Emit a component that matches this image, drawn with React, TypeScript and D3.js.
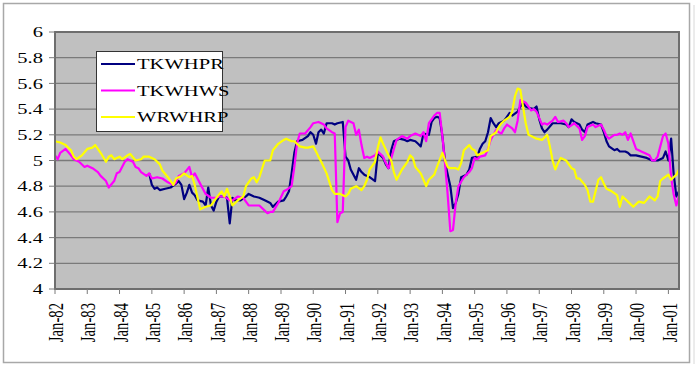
import React from "react";
import * as d3 from "d3";

// month offset from Jan-82, value
const TKWHPR: [number, number][] = [
  [35, 4.9], [36, 4.81], [37, 4.78], [38, 4.79], [39, 4.77], [41, 4.78], [43, 4.79], [45, 4.82], [46, 4.84],
  [47, 4.81], [48, 4.7], [49, 4.75], [50, 4.81], [51, 4.75], [52, 4.73], [53, 4.69], [55, 4.68], [56, 4.65],
  [57, 4.79], [58, 4.65], [59, 4.61], [60, 4.68], [61, 4.72], [63, 4.72], [64, 4.71], [65, 4.51], [66, 4.71],
  [67, 4.69], [69, 4.69], [71, 4.72], [72, 4.74], [74, 4.72], [76, 4.71], [78, 4.69], [80, 4.67], [81, 4.64],
  [83, 4.68], [85, 4.69], [86, 4.72], [87, 4.76], [88, 4.9], [89, 5.06], [90, 5.15], [92, 5.16], [94, 5.19],
  [95, 5.22], [96, 5.2], [97, 5.13], [98, 5.22], [99, 5.24], [100, 5.21], [101, 5.29], [103, 5.29], [104, 5.28],
  [105, 5.29], [107, 5.3], [108, 5.03], [109, 5.0], [110, 4.93], [112, 4.85], [113, 4.94], [114, 4.91],
  [115, 4.89], [117, 4.87], [119, 4.84], [120, 5.06], [121, 5.04], [122, 5.02], [123, 4.97], [124, 4.94],
  [125, 5.08], [126, 5.15], [128, 5.17], [130, 5.16], [131, 5.15], [132, 5.16], [134, 5.15], [135, 5.13],
  [136, 5.11], [137, 5.21], [139, 5.2], [140, 5.3], [141, 5.33], [142, 5.34], [143, 5.33], [144, 5.19],
  [145, 4.98], [147, 4.8], [148, 4.63], [149, 4.67], [150, 4.74], [151, 4.87], [153, 4.89], [154, 4.93],
  [155, 5.02], [157, 5.03], [158, 5.09], [159, 5.13], [160, 5.15], [161, 5.22], [162, 5.33], [163, 5.29],
  [164, 5.26], [165, 5.29], [167, 5.31], [168, 5.34], [169, 5.37], [170, 5.35], [172, 5.38], [173, 5.42],
  [174, 5.45], [175, 5.42], [176, 5.41], [178, 5.4], [179, 5.42], [180, 5.32], [181, 5.25], [182, 5.22],
  [183, 5.24], [185, 5.29], [187, 5.29], [188, 5.29], [190, 5.28], [191, 5.26], [192, 5.32], [193, 5.3],
  [195, 5.28], [196, 5.24], [197, 5.22], [198, 5.28], [200, 5.3], [201, 5.29], [203, 5.28], [204, 5.22],
  [205, 5.15], [206, 5.11], [208, 5.08], [209, 5.09], [210, 5.07], [212, 5.07], [213, 5.06], [214, 5.04],
  [216, 5.04], [218, 5.03], [220, 5.02], [222, 5.0], [224, 5.0], [226, 5.02], [227, 5.07], [228, 5.0],
  [229, 5.17], [230, 4.9], [231, 4.72], [232, 4.76],
];

const TKWHWS: [number, number][] = [
  [0, 5.04], [1, 5.01], [2, 5.06], [4, 5.09], [6, 5.04], [7, 5.01], [9, 4.99], [11, 4.95], [12, 4.96],
  [14, 4.94], [16, 4.91], [17, 4.88], [19, 4.84], [20, 4.79], [22, 4.84], [23, 4.9], [24, 4.91], [26, 4.99],
  [27, 5.01], [29, 4.99], [30, 4.95], [31, 4.94], [32, 4.91], [34, 4.88], [35, 4.9], [36, 4.86], [38, 4.87],
  [40, 4.86], [42, 4.83], [44, 4.81], [45, 4.83], [46, 4.88], [48, 4.9], [50, 4.95], [51, 4.87], [52, 4.9],
  [54, 4.82], [56, 4.74], [58, 4.71], [60, 4.71], [61, 4.72], [63, 4.72], [65, 4.69], [66, 4.69], [68, 4.72],
  [70, 4.71], [72, 4.65], [74, 4.65], [76, 4.65], [78, 4.61], [79, 4.59], [80, 4.6], [81, 4.6], [83, 4.67],
  [85, 4.76], [86, 4.77], [88, 4.8], [89, 4.95], [90, 5.13], [91, 5.21], [93, 5.21], [95, 5.26], [96, 5.29],
  [98, 5.3], [100, 5.28], [101, 5.25], [103, 5.22], [104, 5.21], [105, 4.52], [106, 4.59], [107, 4.6],
  [108, 5.26], [109, 5.31], [111, 5.29], [112, 5.2], [113, 5.24], [114, 5.12], [115, 5.02], [116, 5.03],
  [117, 5.02], [119, 5.04], [120, 5.07], [121, 5.05], [122, 5.03], [123, 4.98], [124, 4.94], [126, 5.09],
  [127, 5.16], [129, 5.19], [131, 5.17], [132, 5.19], [134, 5.21], [136, 5.19], [137, 5.22], [138, 5.15],
  [139, 5.29], [141, 5.35], [142, 5.37], [143, 5.37], [144, 5.19], [145, 4.97], [146, 4.74], [147, 4.45],
  [148, 4.46], [149, 4.67], [150, 4.8], [152, 4.87], [154, 4.91], [155, 4.94], [156, 5.02], [157, 5.01],
  [158, 5.03], [160, 5.04], [161, 5.09], [162, 5.16], [164, 5.24], [165, 5.22], [166, 5.21], [167, 5.25],
  [168, 5.28], [170, 5.25], [171, 5.22], [172, 5.31], [173, 5.47], [175, 5.45], [176, 5.42], [177, 5.39],
  [178, 5.4], [179, 5.38], [180, 5.33], [181, 5.28], [182, 5.29], [183, 5.28], [185, 5.31], [186, 5.34],
  [187, 5.3], [189, 5.31], [190, 5.29], [191, 5.26], [193, 5.29], [195, 5.25], [196, 5.16], [197, 5.19],
  [198, 5.26], [200, 5.28], [201, 5.26], [203, 5.28], [204, 5.24], [205, 5.19], [206, 5.17], [208, 5.2],
  [209, 5.2], [210, 5.21], [211, 5.2], [212, 5.22], [213, 5.16], [214, 5.21], [216, 5.09], [217, 5.08],
  [218, 5.07], [219, 5.06], [221, 5.04], [222, 5.0], [223, 5.0], [224, 5.03], [226, 5.19], [227, 5.21],
  [228, 5.13], [229, 4.87], [230, 4.74], [231, 4.65], [232, 4.73],
];

const WRWHRP: [number, number][] = [
  [0, 5.15], [2, 5.14], [4, 5.12], [6, 5.08], [7, 5.03], [8, 5.01], [10, 5.04], [12, 5.09], [14, 5.1],
  [15, 5.12], [17, 5.06], [19, 4.99], [20, 5.03], [21, 5.04], [22, 5.01], [24, 5.03], [25, 5.01], [27, 5.04],
  [28, 5.05], [30, 5.0], [32, 5.01], [33, 5.03], [35, 5.03], [37, 5.01], [39, 4.97], [40, 4.92], [42, 4.87],
  [44, 4.81], [45, 4.86], [47, 4.88], [48, 4.9], [50, 4.87], [51, 4.88], [52, 4.81], [54, 4.62], [56, 4.64],
  [58, 4.65], [60, 4.71], [62, 4.76], [63, 4.72], [64, 4.78], [65, 4.72], [66, 4.65], [68, 4.69], [70, 4.72],
  [71, 4.8], [73, 4.86], [74, 4.87], [75, 4.83], [76, 4.87], [78, 5.0], [80, 5.0], [81, 5.08], [83, 5.13],
  [85, 5.16], [86, 5.17], [88, 5.15], [89, 5.15], [91, 5.11], [93, 5.1], [94, 5.1], [96, 5.11], [97, 5.07],
  [98, 5.03], [99, 4.99], [101, 4.9], [103, 4.77], [104, 4.74], [106, 4.74], [108, 4.72], [109, 4.74],
  [110, 4.78], [112, 4.8], [114, 4.77], [115, 4.8], [116, 4.85], [117, 4.93], [119, 4.99], [120, 5.1],
  [121, 5.18], [122, 5.13], [124, 5.04], [125, 5.0], [126, 4.91], [127, 4.85], [129, 4.93], [131, 4.99],
  [132, 5.04], [133, 5.02], [134, 4.95], [136, 4.9], [137, 4.85], [138, 4.8], [139, 4.85], [141, 4.89],
  [142, 4.95], [144, 5.06], [145, 5.0], [146, 4.95], [147, 4.94], [149, 4.94], [150, 4.93], [151, 4.98],
  [152, 5.08], [154, 5.12], [155, 5.09], [156, 5.08], [157, 5.04], [159, 5.06], [160, 5.07], [161, 5.08],
  [162, 5.19], [164, 5.22], [165, 5.26], [166, 5.29], [167, 5.31], [169, 5.34], [170, 5.38], [171, 5.5],
  [172, 5.56], [173, 5.55], [174, 5.42], [175, 5.29], [176, 5.2], [177, 5.19], [179, 5.17], [181, 5.16],
  [183, 5.2], [184, 5.11], [185, 5.0], [186, 4.93], [187, 4.98], [188, 5.02], [190, 5.0], [192, 4.94],
  [193, 4.93], [194, 4.86], [195, 4.86], [197, 4.81], [198, 4.77], [199, 4.68], [200, 4.68], [202, 4.85],
  [203, 4.87], [204, 4.82], [205, 4.78], [207, 4.76], [209, 4.73], [210, 4.64], [211, 4.72], [213, 4.68],
  [215, 4.64], [217, 4.68], [219, 4.67], [221, 4.72], [223, 4.69], [224, 4.72], [225, 4.84], [226, 4.86],
  [228, 4.89], [229, 4.85], [230, 4.87], [231, 4.89], [232, 4.93],
];

const seriesNames = ["TKWHPR", "TKWHWS", "WRWHRP"];
const seriesColors = ["#000080", "#FF00FF", "#FFFF00"];
const seriesData = [TKWHPR, TKWHWS, WRWHRP];
const yTicks = [4, 4.2, 4.4, 4.6, 4.8, 5, 5.2, 5.4, 5.6, 5.8, 6];
const startYear = 1982;
const endYear = 2001;

const W = 699;
const H = 369;
const plot = { left: 55, top: 32, right: 679, bottom: 289 };
const FONT = "'Liberation Serif', 'Times New Roman', serif";
const FS = 14.7;
const SX = 1.4; // the picture is stretched sideways

const monthDate = (m: number) => new Date(startYear, m, 1);

export default function App() {
  const x = d3
    .scaleTime()
    .domain([monthDate(0), monthDate(232)])
    .range([plot.left, plot.right]);
  const y = d3.scaleLinear().domain([4, 6]).range([plot.bottom, plot.top]);

  const line = d3
    .line<[number, number]>()
    .x((d) => x(monthDate(d[0])))
    .y((d) => y(d[1]));

  const years = d3.range(startYear, endYear + 1).map((yr) => new Date(yr, 0, 1));
  const fmt = d3.timeFormat("%b-%y");

  return (
    <svg
      width={W}
      height={H}
      style={{ position: "absolute", left: 0, top: 0, background: "#fff" }}
      fontFamily={FONT}
    >
      <rect x={3.5} y={3.5} width={686} height={359} fill="#fff" stroke="#a8a8a8" strokeWidth={1.5} />
      <line x1={694} x2={694} y1={5} y2={364} stroke="#d8d8d8" strokeWidth={1} />

      <rect
        x={plot.left}
        y={plot.top}
        width={plot.right - plot.left}
        height={plot.bottom - plot.top}
        fill="#C0C0C0"
      />
      {yTicks.slice(1, -1).map((t) => (
        <line key={t} x1={plot.left} x2={plot.right} y1={y(t)} y2={y(t)} stroke="#7a7a7a" strokeWidth={1.3} />
      ))}

      <g clipPath="url(#clip)">
        {seriesData.map((s, i) => (
          <path key={i} d={line(s) || ""} fill="none" stroke={seriesColors[i]} strokeWidth={2.2} strokeLinejoin="round" />
        ))}
      </g>
      <defs>
        <clipPath id="clip">
          <rect x={plot.left} y={plot.top} width={plot.right - plot.left} height={plot.bottom - plot.top} />
        </clipPath>
      </defs>

      <rect
        x={plot.left}
        y={plot.top}
        width={plot.right - plot.left}
        height={plot.bottom - plot.top}
        fill="none"
        stroke="#6e6e6e"
        strokeWidth={2}
      />

      {/* y axis */}
      {yTicks.map((t) => (
        <g key={t}>
          <line x1={plot.left - 6} x2={plot.left} y1={y(t)} y2={y(t)} stroke="#7a7a7a" strokeWidth={1} />
          <text
            transform={`translate(43,${y(t)}) scale(${SX},1)`}
            textAnchor="end"
            dy="0.35em"
            fontSize={FS}
            fill="#000"
          >
            {d3.format("")(t)}
          </text>
        </g>
      ))}

      {/* x axis */}
      {years.map((d, i) => (
        <g key={i}>
          <line x1={x(d)} x2={x(d)} y1={plot.bottom} y2={plot.bottom + 5} stroke="#7a7a7a" strokeWidth={1} />
          <text
            transform={`translate(${x(d) + 1},303) scale(${SX},1) rotate(-90)`}
            textAnchor="end"
            dy="0.35em"
            fontSize={FS}
            fill="#000"
          >
            {fmt(d)}
          </text>
        </g>
      ))}

      {/* legend */}
      <rect x={96.5} y={51.5} width={126} height={80} fill="#fff" stroke="#333" strokeWidth={1} />
      {seriesNames.map((n, i) => (
        <g key={n} transform={`translate(0,${64 + i * 26.5})`}>
          <line x1={101} x2={135} y1={0} y2={0} stroke={seriesColors[i]} strokeWidth={2.2} />
          <text transform={`translate(137,0) scale(${SX},1)`} dy="0.35em" fontSize={FS} fill="#000">
            {n}
          </text>
        </g>
      ))}
    </svg>
  );
}
